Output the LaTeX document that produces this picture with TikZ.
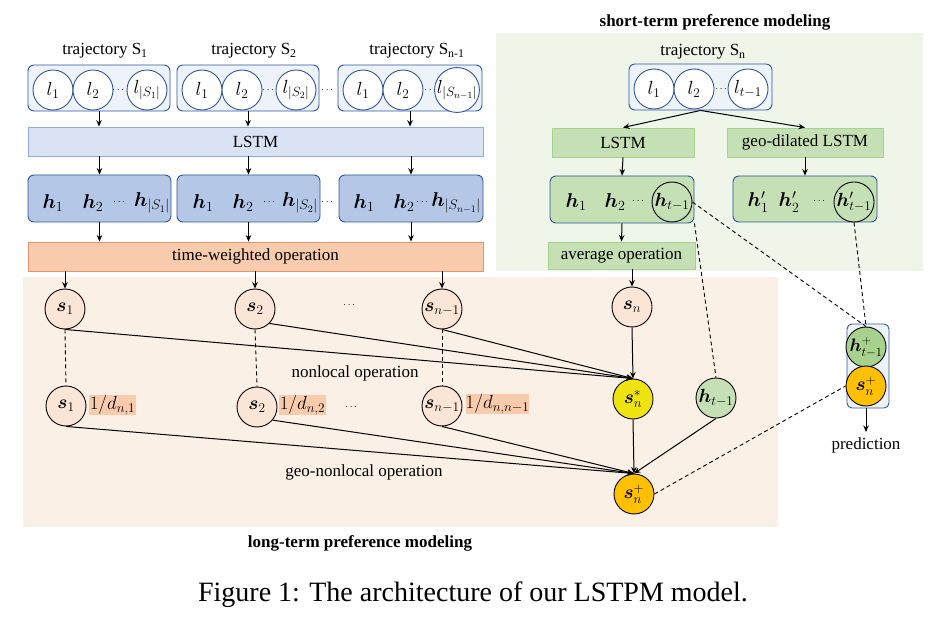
\RequirePackage{fix-cm}
\documentclass[tikz,border=0pt]{standalone}
\usepackage{amsmath,bm}
\usepackage{fontspec}
\setmainfont{Liberation Serif}
\usetikzlibrary{arrows.meta,calc}
\definecolor{bgO}{HTML}{FBF0E6}
\definecolor{bgG}{HTML}{EFF5E9}
\definecolor{dblue}{HTML}{2F5597}
\definecolor{mblue}{HTML}{8FAADC}
\definecolor{lblue}{HTML}{DAE3F3}
\definecolor{vlblue}{HTML}{EEF3FA}
\definecolor{hblue}{HTML}{B4C7E7}
\definecolor{ofill}{HTML}{F8CBAD}
\definecolor{oborder}{HTML}{E5936A}
\definecolor{sfill}{HTML}{FBE5D6}
\definecolor{gfill}{HTML}{C5E0B4}
\definecolor{gborder}{HTML}{A9D18E}
\definecolor{gdark}{HTML}{A9D18E}
\definecolor{yel}{HTML}{F0E410}
\definecolor{gold}{HTML}{FFC000}
\begin{document}
\begin{tikzpicture}[x=1pt,y=-1pt,
  font=\fontsize{17}{20}\selectfont,
  trajbox/.style={draw=dblue, fill=vlblue, rounded corners=6pt, line width=0.9pt, inner sep=0},
  loc/.style={circle, draw=dblue, fill=white, minimum size=40pt, inner sep=0, line width=0.9pt, font=\fontsize{19}{21}\selectfont},
  lstmbox/.style={draw=mblue, fill=lblue, inner sep=0, line width=0.9pt},
  hbox/.style={draw=dblue, fill=hblue, rounded corners=6pt, inner sep=0, line width=0.9pt},
  hgbox/.style={draw=dblue, fill=gfill, rounded corners=6pt, inner sep=0, line width=0.9pt},
  twbox/.style={draw=oborder, fill=ofill, inner sep=0, line width=0.9pt},
  gbox/.style={draw=gborder, fill=gfill, inner sep=0, line width=0.9pt},
  snode/.style={circle, draw=black, fill=sfill, minimum size=40pt, inner sep=0, line width=0.9pt, font=\fontsize{19}{21}\selectfont},
  hcirc/.style={circle, draw=black, minimum size=40pt, inner sep=0, line width=0.9pt, font=\fontsize{19}{21}\selectfont},
  dlab/.style={fill=ofill, inner sep=0, minimum height=20pt, font=\fontsize{19}{21}\selectfont},
  dotsn/.style={font=\fontsize{10}{12}\selectfont, inner sep=0},
  lbl/.style={inner sep=0},
  mth/.style={inner sep=0, font=\fontsize{20}{22}\selectfont},
  arr/.style={-{Stealth[length=6.5pt,width=5.5pt]}, line width=1pt},
  dashline/.style={line width=0.9pt, dash pattern=on 4pt off 3pt}
]
\useasboundingbox (0,0) rectangle (950,620);
% backgrounds
\fill[bgG] (496,33) rectangle (923,271);
\fill[bgO] (23,277) rectangle (778,527);
% titles
\node[lbl, font=\fontsize{17}{20}\selectfont\bfseries] (titS) at (715,22) {short-term preference modeling};
\node[lbl, font=\fontsize{17}{20}\selectfont\bfseries] (titL) at (360,543) {long-term preference modeling};
\node[lbl, font=\fontsize{28}{32}\selectfont] (cap) at (473,595) {Figure 1: The architecture of our LSTPM model.};
% trajectory labels
\node[lbl] (tl1) at (105,51) {trajectory S\textsubscript{1}};
\node[lbl] (tl2) at (254,51) {trajectory S\textsubscript{2}};
\node[lbl] (tl3) at (417,51) {trajectory S\textsubscript{n-1}};
\node[lbl] (tln) at (703,52) {trajectory S\textsubscript{n}};
% trajectory boxes
\node[trajbox, minimum width=142pt, minimum height=46pt] (T1) at (99,88) {};
\node[loc] (T1a) at (53,90) {$l_1$};
\node[loc] (T1b) at (93,90) {$l_2$};
\node[dotsn] (T1d) at (119,90) {$\cdots$};
\node[loc] (T1c) at (147,90) {$l_{|S_1|}$};
\node[trajbox, minimum width=142pt, minimum height=46pt] (T2) at (248,88) {};
\node[loc] (T2a) at (202,90) {$l_1$};
\node[loc] (T2b) at (242,90) {$l_2$};
\node[dotsn] (T2d) at (269,90) {$\cdots$};
\node[loc] (T2c) at (296,90) {$l_{|S_2|}$};
\node[dotsn] (Td) at (328,90) {$\cdots$};
\node[trajbox, minimum width=144pt, minimum height=46pt] (T3) at (410,88) {};
\node[loc] (T3a) at (363,90) {$l_1$};
\node[loc] (T3b) at (403,90) {$l_2$};
\node[dotsn] (T3d) at (431,90) {$\cdots$};
\node[loc] (T3c) at (457,90) {$l_{|S_{n-1}|}$};
% LSTM
\node[lstmbox, minimum width=455pt, minimum height=29pt] (L) at (255.5,141.5) {LSTM};
% h boxes
\node[hbox, minimum width=143pt, minimum height=47pt] (H1) at (99.5,198.5) {};
\node[mth] (H1a) at (53,203) {$\boldsymbol{h}_1$};
\node[mth] (H1b) at (93,203) {$\boldsymbol{h}_2$};
\node[dotsn] (H1d) at (120,202) {$\cdots$};
\node[mth] (H1c) at (152,203) {$\boldsymbol{h}_{|S_1|}$};
\node[hbox, minimum width=143pt, minimum height=47pt] (H2) at (248.5,198.5) {};
\node[mth] (H2a) at (203,203) {$\boldsymbol{h}_1$};
\node[mth] (H2b) at (243,203) {$\boldsymbol{h}_2$};
\node[dotsn] (H2d) at (270,202) {$\cdots$};
\node[mth] (H2c) at (300,203) {$\boldsymbol{h}_{|S_2|}$};
\node[dotsn] (Hd) at (328,202) {$\cdots$};
\node[hbox, minimum width=144pt, minimum height=47pt] (H3) at (411,198.5) {};
\node[mth] (H3a) at (364,203) {$\boldsymbol{h}_1$};
\node[mth] (H3b) at (404,203) {$\boldsymbol{h}_2$};
\node[dotsn] (H3d) at (423,202) {$\cdots$};
\node[mth] (H3c) at (456,203) {$\boldsymbol{h}_{|S_{n-1}|}$};
% time weighted
\node[twbox, minimum width=455pt, minimum height=29pt] (TW) at (255.5,256.5) {time-weighted operation};
% s nodes
\node[snode] (s1) at (65,309) {$\boldsymbol{s}_1$};
\node[snode] (s2) at (255,309) {$\boldsymbol{s}_2$};
\node[dotsn] (sd) at (350,305) {$\cdots$};
\node[snode] (sn1) at (442,309) {$\boldsymbol{s}_{n-1}$};
\node[snode] (s1b) at (66,406) {$\boldsymbol{s}_1$};
\node[snode] (s2b) at (257,407) {$\boldsymbol{s}_2$};
\node[dotsn] (sbd) at (352,407) {$\cdots$};
\node[snode] (sn1b) at (442,406) {$\boldsymbol{s}_{n-1}$};
\node[dlab, minimum width=47pt] (d1) at (112.5,405) {$1/d_{n,1}$};
\node[dlab, minimum width=47pt] (d2) at (302.5,405) {$1/d_{n,2}$};
\node[dlab, minimum width=61pt] (dn) at (497.5,404) {$1/d_{n,n-1}$};
\node[lbl] (nlop) at (355,373) {nonlocal operation};
\node[lbl] (gnlop) at (364,472) {geo-nonlocal operation};
% short-term part
\node[trajbox, minimum width=143pt, minimum height=46pt] (Tn) at (700.5,87) {};
\node[loc] (Tna) at (654,89) {$l_1$};
\node[loc] (Tnb) at (694,89) {$l_2$};
\node[dotsn] (Tnd) at (722,89) {$\cdots$};
\node[loc] (Tnc) at (748,89) {$l_{t-1}$};
\node[gbox, minimum width=142pt, minimum height=29pt] (GL) at (623,142.5) {LSTM};
\node[gbox, minimum width=156pt, minimum height=29pt] (GD) at (805,142.5) {geo-dilated LSTM};
\node[hgbox, minimum width=144pt, minimum height=47pt] (HG) at (622,199.5) {};
\node[mth] (HGa) at (576,202) {$\boldsymbol{h}_1$};
\node[mth] (HGb) at (615,202) {$\boldsymbol{h}_2$};
\node[dotsn] (HGd) at (639,201) {$\cdots$};
\node[hcirc] (ht1) at (672,202) {$\boldsymbol{h}_{t-1}$};
\node[hgbox, minimum width=144pt, minimum height=46pt] (HP) at (805,199) {};
\node[mth] (HPa) at (758,202) {$\boldsymbol{h}'_1$};
\node[mth] (HPb) at (789,202) {$\boldsymbol{h}'_2$};
\node[dotsn] (HPd) at (820,201) {$\cdots$};
\node[hcirc] (hp) at (854,202) {$\boldsymbol{h}'_{t-1}$};
\node[gbox, minimum width=147pt, minimum height=27pt] (AV) at (621.5,255.5) {average operation};
\node[snode] (sn) at (632,307) {$\boldsymbol{s}_n$};
\node[snode, fill=yel] (snstar) at (633,399) {$\boldsymbol{s}_n^*$};
\node[snode, fill=gfill] (hnode) at (716,398) {$\boldsymbol{h}_{t-1}$};
\node[snode, fill=gold] (snplus) at (634,494) {$\boldsymbol{s}_n^+$};
% prediction
\draw[draw=dblue, fill=vlblue, rounded corners=5pt, line width=0.9pt] (847,324) rectangle (889,408);
\coordinate (PBs) at (866,408);
\node[snode, fill=gdark, font=\fontsize{18}{20}\selectfont] (hplus) at (866,347) {$\boldsymbol{h}_{t-1}^+$};
\node[snode, fill=gold] (splus) at (866,386) {$\boldsymbol{s}_n^+$};
\coordinate (predtop) at (866,432);
\node[lbl] (pred) at (866,445) {prediction};
% arrows top-left
\foreach \b in {T1,T2,T3}{\draw[arr] (\b.south) -- (\b.south |- L.north);}
\foreach \b in {H1,H2,H3}{\draw[arr] (\b.north |- L.south) -- (\b.north);}
\foreach \b in {H1,H2,H3}{\draw[arr] (\b.south) -- (\b.south |- TW.north);}
\foreach \s in {s1,s2,sn1}{\draw[arr] (\s.north |- TW.south) -- (\s.north);}
% dashed verticals
\draw[dashline] (s1.south) -- (s1b.north);
\draw[dashline] (s2.south) -- (s2b.north);
\draw[dashline] (sn1.south) -- (sn1b.north);
% nonlocal arrows
\draw[arr] (s1.south) -- (snstar.north);
\draw[arr] (s2.-45) -- (snstar.north);
\draw[arr] (sn1.south) -- (snstar.north);
\draw[arr] (sn.south) -- (snstar.north);
\draw[arr] (s1b.south) -- (snplus.north);
\draw[arr] (s2b.-40) -- (snplus.north);
\draw[arr] (sn1b.south) -- (snplus.north);
\draw[arr] (snstar.south) -- (snplus.north);
\draw[arr] (hnode.south) -- (snplus.north);
% short-term arrows
\draw[arr] (Tn.south) -- (GL.north);
\draw[arr] (Tn.south) -- (GD.north);
\draw[arr] (GL.south) -- (HG.north);
\draw[arr] (GD.south) -- (HP.north);
\draw[arr] (HG.south) -- (AV.north);
\draw[arr] (sn.north |- AV.south) -- (sn.north);
% dashed connections
\draw[dashline] (HG.south east) -- (hnode.north);
\draw[dashline] (ht1.east) -- (hplus.north);
\draw[dashline] (hp.south) -- (hplus.north);
\draw[dashline] (snplus.east) -- (splus.west);
\draw[arr] (PBs) -- (predtop);
\end{tikzpicture}
\end{document}
